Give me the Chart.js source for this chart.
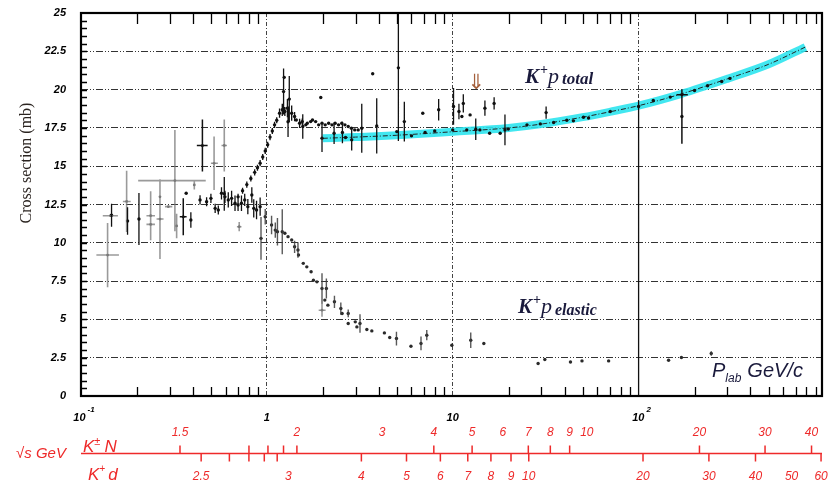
<!DOCTYPE html>
<html>
<head>
<meta charset="utf-8">
<script src="https://cdn.jsdelivr.net/npm/chart.js@4.4.0/dist/chart.umd.min.js"></script>
<style>
  html, body { margin: 0; padding: 0; background: #fff; }
</style>
</head>
<body>
<canvas id="chart" width="840" height="489"></canvas>
<script>
// K+ p cross sections (mb) vs lab momentum (GeV/c)

// total cross section, black points
const totalP = [0.146, 0.178, 0.205, 0.368, 0.39, 0.59,
  0.437, 0.474, 0.5, 0.527, 0.548, 0.57, 0.595, 0.62, 0.646, 0.674, 0.70, 0.73, 0.76, 0.79, 0.83, 0.85, 0.88, 0.92,
  0.70, 0.74, 0.78, 0.82, 0.86, 0.89, 0.92, 0.95, 0.98, 1.01, 1.04, 1.07, 1.10, 1.13,
  1.17, 1.21, 1.25, 1.23, 1.24, 1.29, 1.32, 1.30, 1.36, 1.41, 1.44, 1.50, 1.55, 1.56, 1.62, 1.65, 1.72, 1.76,
  1.83, 1.90, 1.95, 1.98, 1.98, 2.06, 2.15, 2.24, 2.30, 2.33, 2.43, 2.53, 2.55, 2.63, 2.65, 2.74, 2.85, 2.86,
  2.97, 3.10, 3.24, 3.71, 3.90, 5.10, 5.00, 5.49, 6.00, 6.90, 7.10, 8.00, 8.40,
  10.0, 10.1, 10.8, 11.4, 11.2, 11.9, 12.4, 13.3, 14.0, 14.9, 15.8, 16.7, 18.0, 19.1, 19.9,
  25.1, 29.6, 31.8, 34.9, 41.1, 44.6, 50.5, 53.8, 70.4, 100, 120, 148, 171, 200, 235, 280, 310];
const totalSigma = [11.8, 11.42, 11.55, 13.23, 11.49, 13.2,
  12.8, 12.68, 12.9, 12.25, 12.14, 13.23, 13.0, 12.8, 12.9, 12.58, 12.47, 12.58, 12.8, 12.36, 13.12, 12.25, 12.14, 12.36,
  13.0, 13.4, 13.8, 14.2, 14.6, 14.9, 15.2, 15.6, 16.0, 16.4, 16.9, 17.3, 17.7, 18.0,
  18.46, 18.68, 18.57, 19.87, 20.8, 18.79, 19.38, 17.9, 18.46, 18.24, 18.02, 17.8, 17.91, 17.59, 17.7, 17.8, 17.91, 18.02,
  17.91, 17.7, 19.48, 16.83, 17.8, 17.7, 17.8, 17.7, 17.15, 17.8, 17.7, 17.8, 17.2, 17.7, 16.87, 17.59, 17.48, 16.72,
  17.37, 17.37, 17.48, 21.03, 17.63, 21.42, 17.26, 17.91, 16.98, 18.46, 17.2, 17.3, 18.68,
  17.37, 18.9, 18.57, 19.1, 18.24, 17.37, 18.35, 17.41, 17.37, 18.79, 17.15, 19.1, 17.15, 17.37, 17.43,
  17.7, 17.76, 18.5, 17.85, 18.0, 17.96, 18.2, 18.15, 18.57, 18.9, 19.29, 19.51, 18.24, 19.94, 20.25, 20.53, 20.73];
const totalErrUp = [0.75, 0.9, 1.7, 0, 0.5, 1.1,
  0.3, 0.3, 0.3, 0.3, 0.3, 0.4, 0.4, 0.5, 0.5, 0.5, 0.4, 0.5, 0.4, 0.5, 0.5, 0.6, 0.6, 0.6,
  0.2, 0.2, 0.2, 0.2, 0.2, 0.2, 0.2, 0.2, 0.2, 0.2, 0.2, 0.2, 0.2, 0.2,
  0.3, 0.4, 0.3, 1.5, 0, 0.6, 1.5, 1.0, 0.5, 0.3, 0, 0.3, 0.2, 0.8, 0, 0, 0, 0,
  0, 0, 0, 0.9, 0, 0, 0, 0, 0.7, 0, 0, 0, 0.7, 0, 0, 0, 0, 0.7,
  0, 0, 1.6, 0, 1.8, 3.6, 0, 1.3, 0, 0, 0, 0, 0.7,
  0, 1.2, 0.5, 0.6, 0, 0, 0, 0.7, 0, 0.5, 0, 0.4, 0, 1.0, 0,
  0, 0, 0.4, 0, 0, 0, 0, 0, 0, 0.4, 0, 0, 0, 0, 0, 0, 0];
const totalErrDown = totalErrUp.map((e, i) => totalP[i] === 5.10 ? 4.78 : (totalP[i] === 100 ? 18.9 : e));

// black crosses (horizontal bars)
const crossBlackP = [0.355, 0.45, 171];
const crossBlackSigma = [11.7, 16.35, 19.66];
const crossBlackErrUp = [1.2, 1.7, 0.35];
const crossBlackErrDown = [1.2, 1.7, 3.2];
const crossBlackPMin = [0.34, 0.42, 160];
const crossBlackPMax = [0.37, 0.48, 184];

// elastic cross section
const elasticP = [0.93, 0.98, 1.06, 1.11, 1.14, 1.21, 1.25, 1.30, 1.36, 1.41, 1.47, 1.48, 1.57, 1.64, 1.73, 1.78, 1.86,
  1.98, 2.09, 2.05, 2.13, 2.31, 2.50, 2.54, 2.74, 2.74, 2.99, 3.17, 3.05, 3.45, 3.67, 4.29, 4.58, 4.98,
  5.96, 6.75, 7.25, 9.89, 12.5, 14.7, 28.8, 31.3, 43, 49.6, 69, 145, 170, 246];
const elasticSigma = [10.29, 11.7, 11.16, 10.83, 10.72, 10.72, 10.62, 10.4, 10.18, 9.74, 9.53, 9.2, 8.66, 8.43, 8.11, 7.56, 7.45,
  7.02, 7.02, 6.26, 5.93, 6.15, 5.71, 5.39, 5.39, 4.73, 4.84, 4.73, 4.51, 4.34, 4.25, 4.12, 3.82, 3.75,
  3.25, 3.43, 3.97, 3.31, 3.64, 3.43, 2.12, 2.38, 2.22, 2.29, 2.29, 2.33, 2.51, 2.77];
const elasticErr = [1.4, 0.5, 0.6, 0.5, 0.9, 1.47, 0, 0, 0, 0.4, 0.5, 0, 0, 0, 0, 0, 0,
  1.0, 0.65, 0, 0, 0.4, 0.4, 0, 0.25, 0, 0, 0.6, 0, 0, 0, 0, 0, 0.45,
  0, 0.45, 0.33, 0, 0.5, 0, 0, 0, 0, 0, 0, 0, 0, 0.15];

// grey crosses (low energy)
const crossGreyP = [0.139, 0.144, 0.176, 0.237, 0.237, 0.266, 0.266, 0.32, 0.295, 0.327, 0.407, 0.52, 0.59, 0.71, 1.98];
const crossGreySigma = [9.2, 11.77, 12.7, 11.77, 11.2, 11.55, 13.0, 14.06, 12.36, 11.1, 13.78, 15.19, 16.35, 11.05, 5.6];
const crossGreyErr = [2.1, 0, 2.0, 1.6, 0, 2.6, 0.5, 3.3, 0, 0.8, 0.3, 1.75, 1.7, 0.3, 0.43];
const crossGreyPMin = [0.121, 0.131, 0.168, 0.225, 0.225, 0.255, 0.266, 0.203, 0.283, 0.327, 0.407, 0.50, 0.57, 0.69, 1.90];
const crossGreyPMax = [0.160, 0.158, 0.185, 0.250, 0.250, 0.278, 0.266, 0.469, 0.310, 0.327, 0.407, 0.545, 0.61, 0.73, 2.07];

// fit to total cross section
const fitP = [2, 3, 5, 10, 20, 30, 50, 70, 100, 170, 300, 500, 790];
const fitSigma = [16.82, 16.9, 17.02, 17.25, 17.5, 17.75, 18.2, 18.55, 18.95, 19.72, 20.7, 21.65, 22.78];

// x axis labels
const xLabelValues = [0.1, 1, 10, 100];
const xLabelBase = ['10', '1', '10', '10'];
const xLabelExp = ['-1', '', '', '2'];

// sqrt(s) scales (GeV)
const knTicks = [1.5, 1.7, 1.8, 1.9, 2, 4, 5, 7, 8, 9, 20, 30, 40];
const knLabels = [1.5, 2, 3, 4, 5, 6, 7, 8, 9, 10, 20, 30, 40];
const kdTicks = [2.5, 2.6, 2.7, 2.8, 2.9, 4, 5, 6, 7, 8, 9, 10, 20, 30, 40, 60];
const kdLabels = [2.5, 3, 4, 5, 6, 7, 8, 9, 10, 20, 30, 40, 50, 60];

const M_K = 0.4937, M_N = 0.9383, M_D = 1.8756;
function plabFromSqrtS(w, mTarget) {
  const e = (w * w - M_K * M_K - mTarget * mTarget) / (2 * mTarget);
  return Math.sqrt(e * e - M_K * M_K);
}

function points(xs, ys) {
  return xs.map((v, i) => ({ x: v, y: ys[i] }));
}
function isDecade(v) {
  const l = Math.log10(v);
  return Math.abs(l - Math.round(l)) < 1e-6;
}

const errorBars = {
  id: 'errorBars',
  afterDatasetsDraw(chart) {
    const { ctx, chartArea: a, scales: { x, y } } = chart;
    ctx.save();
    ctx.beginPath();
    ctx.rect(a.left, a.top, a.right - a.left, a.bottom - a.top);
    ctx.clip();
    chart.data.datasets.forEach(ds => {
      if (!ds.errUp) return;
      ctx.strokeStyle = ds.barColor;
      ctx.lineWidth = ds.barWidth;
      ctx.beginPath();
      ds.data.forEach((pt, i) => {
        const px = x.getPixelForValue(pt.x);
        const up = ds.errUp[i];
        const dn = ds.errDown ? ds.errDown[i] : up;
        if (up || dn) {
          ctx.moveTo(px, y.getPixelForValue(pt.y + up));
          ctx.lineTo(px, y.getPixelForValue(pt.y - dn));
        }
        if (ds.pMin && ds.pMin[i] !== ds.pMax[i]) {
          const py = y.getPixelForValue(pt.y);
          ctx.moveTo(x.getPixelForValue(ds.pMin[i]), py);
          ctx.lineTo(x.getPixelForValue(ds.pMax[i]), py);
        }
      });
      ctx.stroke();
    });
    ctx.restore();
  }
};

function rich(ctx, x, y, parts) {
  parts.forEach(p => {
    ctx.font = p.font;
    ctx.fillText(p.t, x, y + (p.dy || 0));
    x += ctx.measureText(p.t).width + (p.gap || 0);
  });
}

const decor = {
  id: 'decor',
  afterDraw(chart) {
    const { ctx, chartArea: a, scales: { x } } = chart;
    ctx.save();

    // x tick labels
    ctx.fillStyle = '#000';
    ctx.textBaseline = 'alphabetic';
    xLabelValues.forEach((v, i) => {
      ctx.font = 'bold italic 11px "Liberation Sans"';
      const wb = ctx.measureText(xLabelBase[i]).width;
      ctx.font = 'bold italic 8px "Liberation Sans"';
      const we = xLabelExp[i] ? ctx.measureText(xLabelExp[i]).width + 2 : 0;
      const px = x.getPixelForValue(v) - (wb + we) / 2 + (we ? 3 : 0);
      ctx.font = 'bold italic 11px "Liberation Sans"';
      ctx.textAlign = 'left';
      ctx.fillText(xLabelBase[i], px, 421);
      if (we) {
        ctx.font = 'bold italic 8px "Liberation Sans"';
        ctx.fillText(xLabelExp[i], px + wb + 2, 412);
      }
    });

    // y title
    ctx.save();
    ctx.translate(27, 163);
    ctx.rotate(-Math.PI / 2);
    ctx.textAlign = 'center';
    ctx.textBaseline = 'middle';
    ctx.fillStyle = '#2b2420';
    ctx.font = '16px "Liberation Serif"';
    ctx.fillText('Cross section (mb)', 0, 0);
    ctx.restore();

    // annotations
    ctx.textAlign = 'left';
    ctx.fillStyle = '#1a1a3c';
    rich(ctx, 525, 83, [
      { t: 'K', font: 'bold italic 21px "Liberation Serif"', gap: 1 },
      { t: '+', font: 'bold 14px "Liberation Serif"', dy: -9 },
      { t: 'p', font: 'italic 22px "Liberation Serif"', gap: 3 },
      { t: 'total', font: 'bold italic 17px "Liberation Serif"', dy: 1 }
    ]);
    rich(ctx, 518, 313, [
      { t: 'K', font: 'bold italic 21px "Liberation Serif"', gap: 1 },
      { t: '+', font: 'bold 14px "Liberation Serif"', dy: -9 },
      { t: 'p', font: 'italic 22px "Liberation Serif"', gap: 3 },
      { t: 'elastic', font: 'bold italic 16px "Liberation Serif"', dy: 2 }
    ]);
    rich(ctx, 712, 377, [
      { t: 'P', font: 'italic 20px "Liberation Sans"' },
      { t: 'lab', font: 'italic 12px "Liberation Sans"', dy: 5, gap: 6 },
      { t: 'GeV/c', font: 'italic 20px "Liberation Sans"' }
    ]);
    ctx.fillStyle = '#a5603c';
    ctx.font = '21px "DejaVu Sans"';
    ctx.textAlign = 'center';
    ctx.fillText('\u21D3', 476, 89);

    // sqrt(s) scales
    const red = '#ee2a2a';
    const yLine = 453.5;
    ctx.strokeStyle = red;
    ctx.fillStyle = red;
    ctx.lineWidth = 1.5;
    ctx.beginPath();
    ctx.moveTo(a.left, yLine);
    ctx.lineTo(a.right, yLine);
    knTicks.forEach(w => {
      const px = x.getPixelForValue(plabFromSqrtS(w, M_N));
      ctx.moveTo(px, yLine);
      ctx.lineTo(px, yLine - 8);
    });
    kdTicks.forEach(w => {
      const px = x.getPixelForValue(plabFromSqrtS(w, M_D));
      ctx.moveTo(px, yLine);
      ctx.lineTo(px, yLine + 8);
    });
    ctx.stroke();
    ctx.font = 'italic 12px "Liberation Sans"';
    ctx.textAlign = 'center';
    ctx.textBaseline = 'middle';
    knLabels.forEach(w => {
      ctx.fillText(String(w), x.getPixelForValue(plabFromSqrtS(w, M_N)), 433);
    });
    kdLabels.forEach(w => {
      ctx.fillText(String(w), x.getPixelForValue(plabFromSqrtS(w, M_D)), 477);
    });
    ctx.textAlign = 'left';
    ctx.textBaseline = 'alphabetic';
    ctx.font = 'italic 15px "Liberation Sans"';
    ctx.fillText('\u221As GeV', 16, 458);
    rich(ctx, 83, 452, [
      { t: 'K', font: 'italic 17px "Liberation Sans"' },
      { t: '\u00B1', font: 'italic 11px "Liberation Sans"', dy: -7, gap: 4 },
      { t: 'N', font: 'italic 17px "Liberation Sans"' }
    ]);
    rich(ctx, 88, 480, [
      { t: 'K', font: 'italic 17px "Liberation Sans"' },
      { t: '+', font: 'italic 10px "Liberation Sans"', dy: -8, gap: 3 },
      { t: 'd', font: 'italic 17px "Liberation Sans"' }
    ]);

    ctx.restore();
  }
};

// frame with inward minor ticks, drawn last
const frame = {
  id: 'frame',
  afterDraw(chart) {
    const { ctx, chartArea: a, scales: { x, y } } = chart;
    ctx.save();
    ctx.strokeStyle = '#000';
    ctx.lineWidth = 2.2;
    ctx.strokeRect(a.left, a.top, a.right - a.left, a.bottom - a.top);
    ctx.lineWidth = 1.3;
    ctx.beginPath();
    for (let n = -1; n <= 2; n++) {
      for (let k = 2; k <= 9; k++) {
        const v = k * Math.pow(10, n);
        if (v >= x.max) continue;
        const px = Math.round(x.getPixelForValue(v)) + 0.5;
        ctx.moveTo(px, a.top);
        ctx.lineTo(px, a.top + 11);
        ctx.moveTo(px, a.bottom);
        ctx.lineTo(px, a.bottom - 9);
      }
    }
    for (let i = 1; i < 50; i++) {
      const py = Math.round(y.getPixelForValue(i * 0.5)) + 0.5;
      ctx.moveTo(a.left, py);
      ctx.lineTo(a.left + 6, py);
    }
    ctx.stroke();
    ctx.restore();
  }
};

new Chart(document.getElementById('chart'), {
  type: 'scatter',
  data: {
    datasets: [
      {
        label: 'fit band', type: 'line', data: points(fitP, fitSigma),
        borderColor: 'rgba(45, 228, 238, 0.9)', borderWidth: 8, pointRadius: 0,
        cubicInterpolationMode: 'monotone', fill: false, order: 6
      },
      {
        label: 'fit', type: 'line', data: points(fitP, fitSigma),
        borderColor: '#222', borderWidth: 1, borderDash: [5, 2, 1, 2], pointRadius: 0,
        cubicInterpolationMode: 'monotone', fill: false, order: 5
      },
      {
        label: 'low energy', data: points(crossGreyP, crossGreySigma),
        errUp: crossGreyErr, pMin: crossGreyPMin, pMax: crossGreyPMax,
        barColor: 'rgba(120,120,120,0.75)', barWidth: 1.6,
        pointRadius: 1.4, backgroundColor: '#777', borderWidth: 0, order: 4
      },
      {
        label: 'K+p elastic', data: points(elasticP, elasticSigma),
        errUp: elasticErr, barColor: 'rgba(60,60,60,0.85)', barWidth: 1.4,
        pointRadius: 1.7, backgroundColor: '#2a2a2a', borderWidth: 0, order: 3
      },
      {
        label: 'K+p total', data: points(totalP, totalSigma),
        errUp: totalErrUp, errDown: totalErrDown, barColor: '#111', barWidth: 1.3,
        pointRadius: 1.7, backgroundColor: '#111', borderWidth: 0, order: 1
      },
      {
        label: 'K+p total crosses', data: points(crossBlackP, crossBlackSigma),
        errUp: crossBlackErrUp, errDown: crossBlackErrDown, pMin: crossBlackPMin, pMax: crossBlackPMax,
        barColor: '#111', barWidth: 1.5,
        pointRadius: 1.5, backgroundColor: '#111', borderWidth: 0, order: 2
      }
    ]
  },
  options: {
    responsive: false,
    animation: false,
    layout: { padding: { top: 13, right: 18, left: 0, bottom: 0 } },
    plugins: { legend: { display: false }, tooltip: { enabled: false } },
    scales: {
      x: {
        type: 'logarithmic', min: 0.1, max: 970,
        afterFit: s => { s.height = 93; },
        ticks: { display: false },
        grid: {
          drawTicks: false, lineWidth: 1,
          color: c => (c.tick && c.tick.value > 0.1 && isDecade(c.tick.value)) ? '#444' : 'rgba(0,0,0,0)'
        },
        border: { display: false, dash: [4, 2, 1, 2] }
      },
      y: {
        min: 0, max: 25,
        afterFit: s => { s.width = 81; s.paddingTop = 0; s.paddingBottom = 0; },
        ticks: {
          stepSize: 2.5, padding: 15, color: '#000',
          font: { family: 'Liberation Sans', size: 11, style: 'italic', weight: 'bold' },
          callback: v => String(v)
        },
        grid: { drawTicks: false, color: '#333', lineWidth: 1 },
        border: { display: false, dash: [7, 2, 1, 2, 1, 2] }
      }
    }
  },
  plugins: [errorBars, decor, frame]
});
</script>
</body>
</html>
